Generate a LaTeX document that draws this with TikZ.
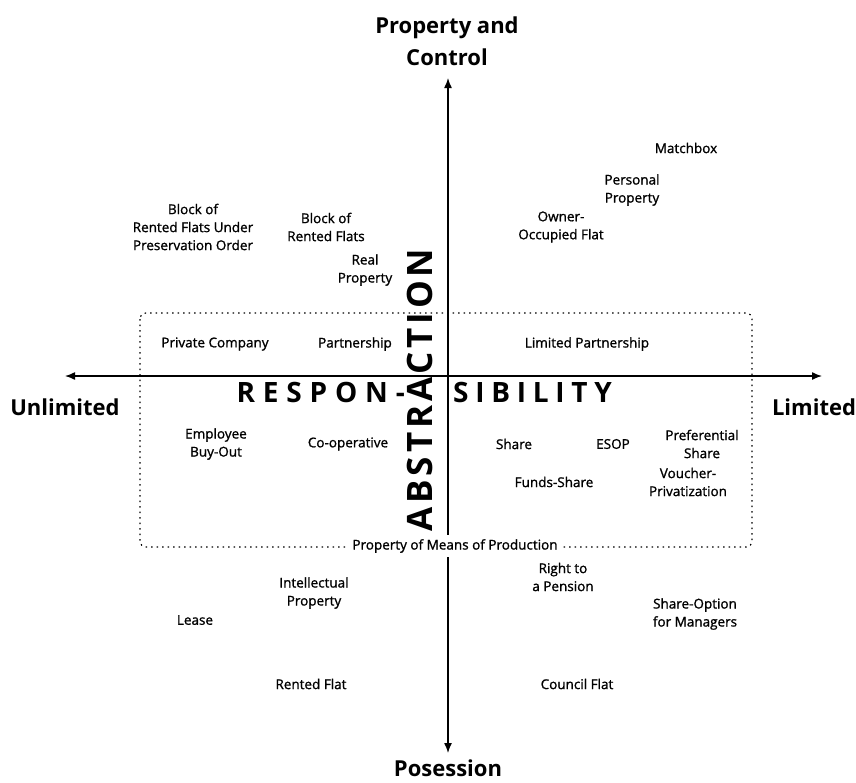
\documentclass[tikz,border=0pt]{standalone}
\usepackage{fontspec}
\setmainfont{Open Sans}
\newfontfamily\lblfont[FakeBold=1.2]{Open Sans}
\newfontfamily\spacedfont[LetterSpace=24]{Open Sans}
\newfontfamily\widefont[LetterSpace=28]{Open Sans}
\newfontfamily\abstrfont[LetterSpace=11]{Open Sans}
\usetikzlibrary{arrows.meta}

\begin{document}
\begin{tikzpicture}[
                x=1pt, y=-1pt,
                lbl/.style={align=center, inner sep=0pt, font=\lblfont\fontsize{13.5}{18}\selectfont},
                axtitle/.style={align=center, inner sep=0pt, font=\fontsize{22}{32}\selectfont\bfseries},
                bigword/.style={inner sep=0pt, font=\spacedfont\fontsize{28}{28}\selectfont\bfseries},
                axisline/.style={line width=1.4pt, {Latex[length=10pt,width=8pt]}-{Latex[length=10pt,width=8pt]}},
                zone/.style={line width=1.2pt, dash pattern=on 1.5pt off 4pt, rounded corners=6pt}
            ]
                \useasboundingbox (0,0) rectangle (856,782);

                % axes
                \coordinate (ytop) at (448,78);
                \coordinate (ybot) at (448,753);
                \coordinate (xleft) at (65,376);
                \coordinate (xright) at (822,376);
                \draw[axisline] (ybot) -- (ytop);
                \draw[axisline] (xleft) -- (xright);

                % dotted zone
                \draw[zone] (140,313) rectangle (752,547);

                % axis titles
                \node[axtitle] (ctrl) at (447,41) {Property and\\Control};
                \node[axtitle] (poss) at (448,768) {Posession};
                \node[axtitle] (unlim) at (65,407) {Unlimited};
                \node[axtitle] (lim) at (814,407) {Limited};

                % big words
                \node[bigword, anchor=east, font=\widefont\fontsize{28}{28}\selectfont\bfseries] (resp) at (405,392) {RESPON-};
                \node[bigword, anchor=west] (sib) at (453,392) {SIBILITY};
                \node[inner sep=0pt, rotate=90, font=\abstrfont\fontsize{35}{35}\selectfont\bfseries] (abstr) at (420,390) {ABSTRACTION};

                % upper half
                \node[lbl] (matchbox) at (686,148) {Matchbox};
                \node[lbl] (persprop) at (632,190) {Personal\\Property};
                \node[lbl] (ownflat) at (561,227) {Owner-\\Occupied Flat};
                \node[lbl] (blockpres) at (193,227) {Block of\\Rented Flats Under\\Preservation Order};
                \node[lbl] (block) at (326,227) {Block of\\Rented Flats};
                \node[lbl] (realprop) at (365,270) {Real\\Property};
                \node[lbl] (privco) at (215,344) {Private Company};
                \node[lbl] (partner) at (355,344) {Partnership};
                \node[lbl] (limpart) at (587,344) {Limited Partnership};

                % lower half
                \node[lbl] (ebo) at (216,444) {Employee\\Buy-Out};
                \node[lbl] (coop) at (348,444) {Co-operative};
                \node[lbl] (share) at (514,444) {Share};
                \node[lbl] (esop) at (613,444) {ESOP};
                \node[lbl] (prefshare) at (702,444) {Preferential\\Share};
                \node[lbl] (funds) at (554,482) {Funds-Share};
                \node[lbl] (voucher) at (688,482) {Voucher-\\Privatization};
                \node[lbl, fill=white, inner sep=4pt] (means) at (455,546) {Property of Means of Production};
                \node[lbl] (pension) at (563,577) {Right to\\a Pension};
                \node[lbl] (intprop) at (314,593) {Intellectual\\Property};
                \node[lbl] (option) at (695,614) {Share-Option\\for Managers};
                \node[lbl] (lease) at (195,620) {Lease};
                \node[lbl] (rented) at (311,684) {Rented Flat};
                \node[lbl] (council) at (577,684) {Council Flat};
            \end{tikzpicture}
\end{document}
